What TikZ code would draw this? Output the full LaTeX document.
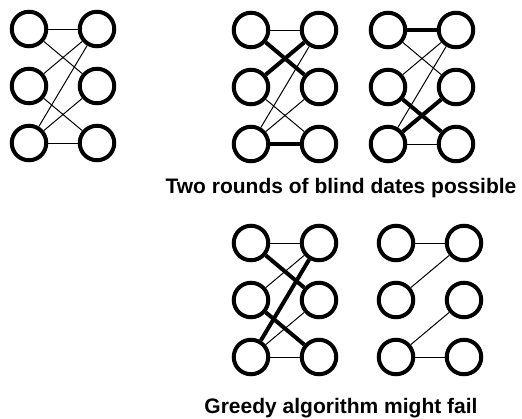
\documentclass[tikz,border=0pt]{standalone}
\usepackage{fontspec}
\setmainfont{Liberation Sans}
\usepackage{tikz}
\usetikzlibrary{positioning}

\begin{document}
\begin{tikzpicture}[x=1pt, y=-1pt,
  vtx/.style={circle, draw, line width=4pt, minimum size=34.5pt, inner sep=0pt},
  thinedge/.style={line width=1pt},
  thickedge/.style={line width=4pt},
  caption/.style={font=\bfseries\fontsize{21}{24}\selectfont, anchor=base}]
\useasboundingbox (0,0) rectangle (522,418);

% --- All possible dates ---
\begin{scope}[xshift=29pt, yshift=-29pt]
\foreach \r/\y in {1/0, 2/57, 3/114} {
  \node[vtx] (a-L\r) at (0,\y) {};
  \node[vtx] (a-R\r) at (68,\y) {};
}
\draw[thinedge] (a-L1) -- (a-R1);
\draw[thinedge] (a-L1) -- (a-R2);
\draw[thinedge] (a-L2) -- (a-R1);
\draw[thinedge] (a-L2) -- (a-R3);
\draw[thinedge] (a-L3) -- (a-R1);
\draw[thinedge] (a-L3) -- (a-R2);
\draw[thinedge] (a-L3) -- (a-R3);
\end{scope}

% --- First round ---
\begin{scope}[xshift=251pt, yshift=-30pt]
\foreach \r/\y in {1/0, 2/57, 3/114} {
  \node[vtx] (b-L\r) at (0,\y) {};
  \node[vtx] (b-R\r) at (68,\y) {};
}
\draw[thinedge] (b-L1) -- (b-R1);
\draw[thickedge] (b-L1) -- (b-R2);
\draw[thickedge] (b-L2) -- (b-R1);
\draw[thinedge] (b-L2) -- (b-R3);
\draw[thinedge] (b-L3) -- (b-R1);
\draw[thinedge] (b-L3) -- (b-R2);
\draw[thickedge] (b-L3) -- (b-R3);
\end{scope}

% --- Second round ---
\begin{scope}[xshift=388pt, yshift=-30pt]
\foreach \r/\y in {1/0, 2/57, 3/114} {
  \node[vtx] (c-L\r) at (0,\y) {};
  \node[vtx] (c-R\r) at (68,\y) {};
}
\draw[thickedge] (c-L1) -- (c-R1);
\draw[thinedge] (c-L1) -- (c-R2);
\draw[thinedge] (c-L2) -- (c-R1);
\draw[thickedge] (c-L2) -- (c-R3);
\draw[thinedge] (c-L3) -- (c-R1);
\draw[thickedge] (c-L3) -- (c-R2);
\draw[thinedge] (c-L3) -- (c-R3);
\end{scope}

\node[caption] (cap1) at (341,193) {Two rounds of blind dates possible};

% --- Greedy first round ---
\begin{scope}[xshift=251pt, yshift=-243pt]
\foreach \r/\y in {1/0, 2/57, 3/114} {
  \node[vtx] (d-L\r) at (0,\y) {};
  \node[vtx] (d-R\r) at (68,\y) {};
}
\draw[thinedge] (d-L1) -- (d-R1);
\draw[thickedge] (d-L1) -- (d-R2);
\draw[thinedge] (d-L2) -- (d-R1);
\draw[thickedge] (d-L2) -- (d-R3);
\draw[thickedge] (d-L3) -- (d-R1);
\draw[thinedge] (d-L3) -- (d-R2);
\draw[thinedge] (d-L3) -- (d-R3);
\end{scope}

% --- What is left over ---
\begin{scope}[xshift=396pt, yshift=-243pt]
\foreach \r/\y in {1/0, 2/57, 3/114} {
  \node[vtx] (e-L\r) at (0,\y) {};
  \node[vtx] (e-R\r) at (68,\y) {};
}
\draw[thinedge] (e-L1) -- (e-R1);
\draw[thinedge] (e-L2) -- (e-R1);
\draw[thinedge] (e-L3) -- (e-R2);
\draw[thinedge] (e-L3) -- (e-R3);
\end{scope}

\node[caption] (cap2) at (341,413) {Greedy algorithm might fail};

\end{tikzpicture}
\end{document}
